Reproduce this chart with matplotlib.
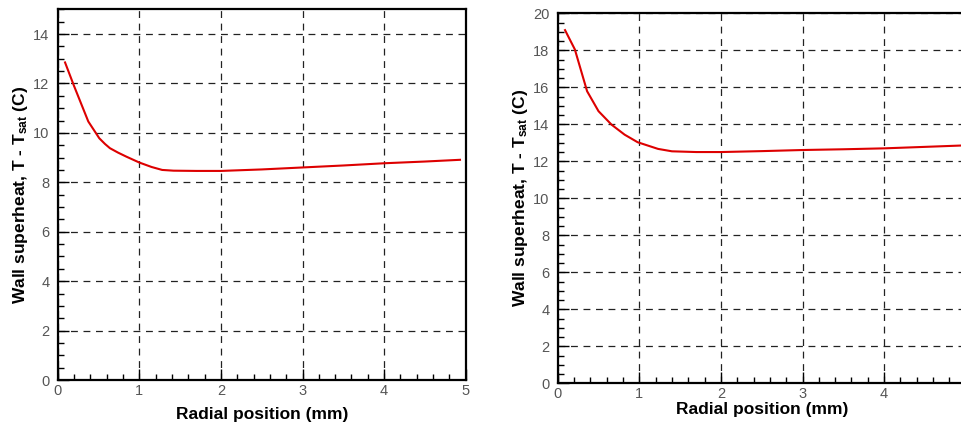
import matplotlib
matplotlib.use("Agg")
import matplotlib.pyplot as plt
from matplotlib.ticker import MultipleLocator

plt.rcParams['font.family'] = ['Liberation Sans', 'DejaVu Sans']
plt.rcParams['mathtext.fontset'] = 'custom'
plt.rcParams['mathtext.rm'] = 'Liberation Sans:bold'
plt.rcParams['mathtext.it'] = 'Liberation Sans:bold'
plt.rcParams['mathtext.bf'] = 'Liberation Sans:bold'

# Left panel data
left_r = [0.09, 0.2, 0.375, 0.51, 0.58, 0.64, 0.74, 0.84, 1.0, 1.15, 1.28, 1.42, 1.7, 2.0, 2.5, 3.0, 3.5, 4.0, 4.5, 4.93]
left_dt = [12.85, 11.9, 10.46, 9.78, 9.55, 9.38, 9.2, 9.04, 8.80, 8.62, 8.50, 8.47, 8.46, 8.46, 8.52, 8.60, 8.68, 8.77, 8.84, 8.91]

# Right panel data
right_r = [0.09, 0.21, 0.36, 0.5, 0.66, 0.82, 0.98, 1.23, 1.4, 1.7, 2.0, 2.5, 3.0, 3.5, 4.0, 4.5, 4.93]
right_dt = [19.09, 18.05, 15.79, 14.71, 13.98, 13.44, 13.03, 12.67, 12.54, 12.5, 12.5, 12.55, 12.61, 12.65, 12.70, 12.78, 12.85]

xlabel = "Radial position (mm)"
ylabel = "Wall superheat, T - T$_\\mathrm{sat}$ (C)"

fig = plt.figure(figsize=(9.61, 4.28), dpi=100)
axL = fig.add_axes([57.7/961, (428-380)/428, 408/961, 370.7/428])
axR = fig.add_axes([557.7/961, (428-383.3)/428, 408/961, 370/428])

def style(ax, x, y, ymax, xl_y, xpad):
    ax.plot(x, y, color='#dd0000', lw=1.5, zorder=3)
    ax.set_xlim(0, 5)
    ax.set_ylim(0, ymax)
    ax.xaxis.set_major_locator(MultipleLocator(1))
    ax.xaxis.set_minor_locator(MultipleLocator(0.2))
    ax.yaxis.set_major_locator(MultipleLocator(2))
    ax.yaxis.set_minor_locator(MultipleLocator(0.5))
    ax.tick_params(which='both', direction='in', top=False, right=False,
                   colors='black', labelcolor='#555555', labelsize=10.5)
    ax.tick_params(which='major', length=8, width=1.0)
    ax.tick_params(which='minor', length=4, width=1.0)
    ax.tick_params(axis='x', pad=xpad)
    ax.tick_params(axis='y', pad=6)
    ax.grid(True, which='major', color='#222222', lw=0.9, ls=(0, (5.5, 4.5)))
    for s in ax.spines.values():
        s.set_linewidth(1.6)
        s.set_color('black')
    ax.set_xlabel(xlabel, fontsize=12.5, fontweight='bold')
    ax.set_ylabel(ylabel, fontsize=12.5, fontweight='bold')
    ax.xaxis.set_label_coords(0.5, xl_y)
    ax.xaxis.label.set_va('center')
    ax.yaxis.set_label_coords(-0.0924, 0.5)
    ax.yaxis.label.set_va('center')

style(axL, left_r, left_dt, 15, -0.0944, 3)
style(axR, right_r, right_dt, 20, -0.072, 2.5)

# The reference image is cropped at the right edge: the "5" label of the right panel is not visible
fig.canvas.draw()
for lbl in axR.get_xticklabels():
    if lbl.get_text() == '5':
        lbl.set_visible(False)

fig.savefig("out.png", dpi=100)
